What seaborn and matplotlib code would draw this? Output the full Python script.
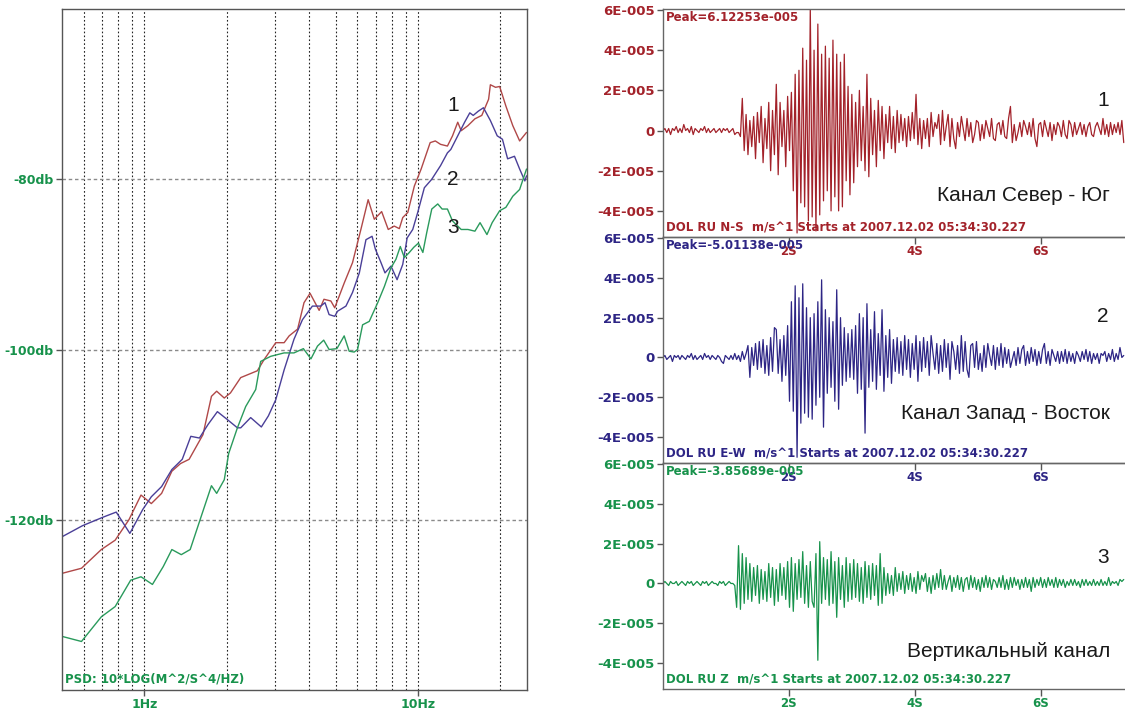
import numpy as np
import pandas as pd
import matplotlib
matplotlib.use("Agg")
import matplotlib.pyplot as plt
import seaborn as sns
from matplotlib.ticker import FixedLocator, LogLocator, NullFormatter

# ---------------- power spectral density (dB) ----------------
freq_ns = [0.50, 0.589, 0.696, 0.782, 0.878, 0.972, 1.06, 1.156, 1.26, 1.355, 1.457, 1.637,
           1.758, 1.837, 1.958, 2.063, 2.249, 2.586, 2.736, 3.02, 3.24, 3.38, 3.63, 3.83,
           4.03, 4.35, 4.53, 4.80, 4.96, 5.37, 5.76, 6.18, 6.57, 6.92, 7.36, 7.78, 8.18,
           8.54, 8.79, 9.17, 9.69, 10.26, 11.07, 11.56, 12.08, 12.8, 13.36, 13.96, 14.37,
           15.21, 16.13, 17.09, 18.1, 18.37, 19.19, 19.86, 20.93, 22.18, 23.5, 24.9]
psd_ns = [-126.3, -125.7, -123.5, -122.4, -120.0, -117.1, -118.1, -116.9, -114.3, -113.4,
          -112.9, -110.0, -105.5, -104.9, -105.7, -105.1, -103.3, -102.5, -101.2, -99.2,
          -99.2, -98.4, -97.6, -94.5, -93.4, -95.4, -94.1, -94.3, -95.1, -92.2, -89.8,
          -85.9, -82.4, -84.7, -83.8, -85.9, -85.5, -85.8, -84.5, -83.9, -80.8, -78.8,
          -75.7, -75.5, -75.9, -76.1, -74.9, -73.3, -74.3, -73.7, -72.9, -72.5, -70.6,
          -68.9, -69.2, -69.1, -71.4, -73.7, -75.5, -74.5]

freq_ew = [0.50, 0.594, 0.706, 0.789, 0.885, 0.986, 1.06, 1.156, 1.26, 1.375, 1.478, 1.589,
           1.709, 1.848, 2.004, 2.187, 2.249, 2.445, 2.675, 2.838, 3.02, 3.24, 3.52, 3.78,
           4.11, 4.41, 4.57, 4.73, 4.96, 5.08, 5.45, 5.76, 6.10, 6.45, 6.79, 6.98, 7.32,
           7.57, 7.96, 8.38, 8.79, 9.12, 9.56, 9.97, 10.54, 11.22, 12.08, 12.8, 13.17,
           13.96, 14.79, 15.45, 15.9, 16.6, 17.33, 18.37, 19.46, 20.33, 21.24, 22.5, 23.5,
           24.55, 24.9]
psd_ew = [-122.0, -120.7, -119.7, -119.1, -121.6, -118.8, -117.3, -116.1, -114.1, -112.9,
          -110.2, -110.4, -108.8, -107.3, -108.2, -109.2, -109.2, -108.0, -109.1, -107.8,
          -105.9, -102.4, -98.8, -96.5, -94.9, -94.9, -94.5, -95.9, -96.1, -95.5, -94.9,
          -93.3, -91.0, -87.1, -86.7, -88.2, -89.8, -91.0, -90.2, -91.8, -90.0, -86.9,
          -85.9, -83.9, -81.0, -80.0, -78.4, -76.9, -76.5, -74.9, -73.3, -72.2, -72.5,
          -72.0, -71.6, -73.1, -74.9, -75.3, -77.6, -77.3, -78.8, -80.2, -79.6]

freq_z = [0.50, 0.589, 0.696, 0.782, 0.891, 0.972, 1.07, 1.172, 1.26, 1.364, 1.47, 1.613,
          1.758, 1.837, 1.958, 2.033, 2.187, 2.345, 2.551, 2.66, 2.895, 3.24, 3.52, 3.81,
          4.06, 4.29, 4.52, 4.73, 5.05, 5.37, 5.60, 5.84, 6.01, 6.27, 6.63, 7.12, 7.53,
          7.96, 8.30, 8.61, 8.91, 9.29, 9.64, 10.03, 10.41, 10.75, 11.22, 11.8, 12.24,
          12.8, 13.36, 14.37, 15.21, 16.13, 16.84, 17.85, 18.65, 19.86, 20.93, 22.18,
          23.5, 24.9]
psd_z = [-133.7, -134.3, -131.4, -130.2, -127.1, -126.7, -127.6, -125.5, -123.5, -124.1,
         -123.5, -119.6, -116.0, -116.9, -115.3, -112.2, -109.2, -106.7, -104.7, -101.4,
         -100.8, -100.4, -100.4, -99.9, -101.1, -99.6, -98.9, -100.0, -99.9, -98.4, -100.2,
         -100.3, -100.0, -97.1, -96.7, -94.5, -92.6, -90.4, -89.4, -87.9, -89.2, -88.6,
         -88.0, -87.5, -88.6, -86.3, -83.5, -82.9, -83.5, -83.5, -84.9, -85.9, -85.9,
         -86.1, -85.1, -86.5, -85.1, -83.7, -83.3, -82.0, -81.2, -78.8]

psd_yticks = [-120, -100, -80]
psd_ylabels = ["-120db", "-100db", "-80db"]
psd_xticks = [1, 10]
psd_xlabels = ["1Hz", "10Hz"]

# ---------------- velocity records, micrometres per second, step 0.03 s ----------------
DT = 0.03
vel_ns = [
    0, 1, -1, 1, -2, 1, 0, 2, -1, 1,
    -1, 3, 0, 1, -1, 2, -2, 1, 0, -1,
    1, 0, 2, -1, 1, -1, 0, 1, -1, 0,
    1, -1, 1, 0, 1, -1, 0, 1, -2, -1,
    -1, -3, 16, -10, 8, -12, 5, -8, 7, -14,
    9, -6, 12, -16, 6, -9, 14, -20, 10, -12,
    23, -22, 14, -8, 10, -18, 17, -10, 19, -30,
    28, -51, 30, -36, 41, -38, 35, -45, 61.2253, -43,
    40, -50, 53, -42, 38, -35, 42, -30, 36, -40,
    45, -33, 38, -40, 34, -38, 38, -25, 22, -32,
    18, -26, 14, -18, 20, -15, 12, -20, 28, -23,
    16, -12, 10, -18, 15, -10, 12, -14, 8, -6,
    12, -9, 7, -11, 10, -6, 8, -5, 6, -8,
    7, -5, 9, -4, 18, -7, 6, -9, 5, -4,
    6, -8, 9, -3, 4, 1, 8, -7, 10, -5,
    2, 8, -8, 6, -4, -9, 4, -3, 7, 1,
    -5, 6, -3, 4, -6, -2, 5, 4, -5, 3,
    -4, 5, 1, -3, 6, -4, -5, 3, 4, -2,
    5, -3, -4, 6, 12, -6, 3, -5, -1, 4,
    -3, 5, 2, -2, 4, -3, 6, -4, -8, 3,
    4, -3, 5, 1, -3, 4, -5, 3, -2, 4,
    2, -3, 5, -2, -4, 5, 3, -3, 4, -2,
    1, 4, -2, 3, -3, 2, 4, -2, -3, 2,
    4, 1, -2, 6, -2, 3, -3, 4, -2, 3,
    -1, 4, -2, 5, -6]

vel_ew = [
    0, 1, -1, 0, 1, -2, 1, 0, 1, -1,
    1, 0, -1, 1, 0, 2, -1, 1, -1, 0,
    1, -1, 2, 0, 1, -1, 1, 0, -1, 1,
    0, -2, -3, 1, 0, -1, 1, -1, 2, -1,
    1, -2, 3, -1, 2, 6, -10, 5, -4, 7,
    -6, 8, -5, 9, -8, 6, -9, 10, -7, 15,
    14, -8, 9, -12, 11, -9, 16, -22, 28, -27,
    36, -50.1138, 30, -33, 37, -28, 25, -30, 20, -31,
    22, -24, 28, -20, 39, -35, 24, -18, 20, -15,
    18, -22, 34, -26, 20, -14, 15, -12, 12, -10,
    14, -11, 16, -18, 22, -16, 20, -38, 27, -15,
    14, -12, 23, -16, 12, -9, 24, -17, 11, -10,
    14, -13, 9, -7, 10, -8, 8, -9, 11, -6,
    9, -10, 7, -6, 11, -12, 8, -7, 10, -5,
    8, -9, 11, 2, -6, 7, -8, 6, -7, 9,
    -5, 7, -11, 8, 3, -6, 6, -8, 11, -7,
    8, -6, -10, 6, 7, -5, 8, -6, 2, -7,
    6, -5, 7, 1, -4, 6, -6, 5, -4, 7,
    -5, 5, -3, 4, -5, -1, 3, -4, 5, -3,
    4, 6, -4, 3, -3, 5, -2, 4, -4, 3,
    -3, 4, 7, -3, 3, -4, 4, 1, -2, 3,
    -3, 3, -2, 4, -3, 3, -2, 2, -3, 3,
    1, -2, 3, -1, 4, -2, 3, -3, 2, -1,
    2, -3, 2, 1, 3, -2, 2, -1, 4, -2,
    2, -1, 5, 0, 1]

vel_z = [
    0, 1, 0, -1, 1, 0, 0, 1, -1, 0,
    1, 0, -1, 1, 0, 1, -1, 0, 1, 0,
    -1, 1, 0, 1, -1, 0, 1, 0, 0, -1,
    1, 0, 1, -1, 0, 1, 0, 0, -1, -12,
    19, -13, 15, -10, 13, -8, 10, -9, 8, -6,
    9, -10, 7, -8, 6, -9, 10, -7, 8, -11,
    7, -9, 10, -6, 8, -8, 11, -12, 13, -14,
    10, -8, 12, -7, 16, -10, 9, -12, 11, -9,
    -12, 15, -38.5689, 21, -10, 13, -8, 12, -11, 16,
    -10, 11, -17, 13, -8, 9, -12, 13, -9, 10,
    -8, 12, -7, 10, -9, 8, -10, 11, -7, 9,
    -8, 10, -6, 9, -11, 15, -10, 8, -6, 5,
    -5, 4, -6, 8, -4, 5, -3, 6, -5, 4,
    -3, 5, -4, 3, -5, 6, -3, 4, 1, 5,
    -4, 3, -5, 4, -3, 5, -2, 7, -3, 4,
    -3, 1, 4, -4, 3, -2, 4, -3, 3, -4,
    2, 3, -3, 4, -2, 3, -3, 2, -4, 3,
    -2, 4, -2, 3, -3, 2, 1, -2, 3, -2,
    4, -3, 2, -3, 3, -2, 3, -1, 2, -3,
    2, -2, 3, -2, 2, -4, 3, -2, 2, -1,
    3, -2, 2, -2, 3, -1, 2, -2, 3, -2,
    2, -1, 2, -2, 1, -1, 2, -1, 2, -1,
    1, -2, 2, -1, 2, -1, 1, -1, 2, -1,
    1, -1, 2, -1, 1, -1, 3, -1, 1, 0,
    1, -1, 2, 1, 2]

amp_ticks = [-4e-5, -2e-5, 0, 2e-5, 4e-5, 6e-5]
amp_labels = ["-4E-005", "-2E-005", "0", "2E-005", "4E-005", "6E-005"]
time_ticks = [2, 4, 6]
time_labels = ["2S", "4S", "6S"]

channel_codes = ["N-S", "E-W", "Z"]
channel_names = ["Канал Север - Юг", "Канал Запад - Восток", "Вертикальный канал"]
channel_nums = ["1", "2", "3"]
start_stamp = "2007.12.02 05:34:30.227"

RED, BLUE, GREEN = "#a3222a", "#2d2585", "#17924b"
PSD_COLORS = ["#b04848", "#4a3f98", "#2a9a5c"]

sns.set_theme(style="white")
plt.rcParams["font.family"] = ["DejaVu Sans"]
SMALL = dict(family="DejaVu Sans", weight="bold", size=8.5)
BIG = dict(family="Liberation Sans", size=15)

W, H = 1125, 713
fig = plt.figure(figsize=(W / 100, H / 100), dpi=100)
fig.patch.set_facecolor("white")

# ---------------- spectrum panel ----------------
ax = fig.add_axes([62 / W, 1 - 690 / H, 465 / W, 681 / H])
ax.set_xscale("log")
psd_sets = [(freq_ns, psd_ns), (freq_ew, psd_ew), (freq_z, psd_z)]
for (fx, fy), col in zip(psd_sets, PSD_COLORS):
    d = pd.DataFrame({"f": fx, "db": fy})
    sns.lineplot(data=d, x="f", y="db", ax=ax, color=col, lw=1.0, estimator=None)
ax.set_xlim(0.5, 25)
ax.set_ylim(-140, -60)
ax.set_xlabel("")
ax.set_ylabel("")
ax.xaxis.set_major_locator(FixedLocator(psd_xticks))
ax.set_xticklabels(psd_xlabels)
ax.xaxis.set_minor_locator(LogLocator(base=10, subs=np.arange(2, 10)))
ax.xaxis.set_minor_formatter(NullFormatter())
ax.yaxis.set_major_locator(FixedLocator(psd_yticks))
ax.set_yticklabels(psd_ylabels)
ax.grid(False)
for xv in ax.xaxis.get_majorticklocs().tolist() + ax.xaxis.get_minorticklocs().tolist():
    if 0.5 < xv < 25:
        ax.axvline(xv, color="#222222", lw=0.8, ls=(0, (1.5, 2.0)), zorder=0)
for yv in psd_yticks:
    ax.axhline(yv, color="#8a8a8a", lw=1.0, ls=(0, (2.5, 2.0)), zorder=0)
ax.tick_params(axis="y", which="major", left=True, length=4, width=1, color="#555555",
               pad=2, labelcolor=GREEN)
ax.tick_params(axis="x", which="major", bottom=True, length=4, width=1, color="#555555",
               pad=2, labelcolor=GREEN)
ax.tick_params(axis="x", which="minor", bottom=False)
for lab in ax.get_xticklabels() + ax.get_yticklabels():
    lab.set_fontfamily(SMALL["family"])
    lab.set_fontweight("bold")
    lab.set_fontsize(9)
for s in ax.spines.values():
    s.set_color("#555555")
    s.set_linewidth(1.0)
ax.text(0.006, 0.006, "PSD: 10*LOG(M^2/S^4/HZ)", transform=ax.transAxes,
        ha="left", va="bottom", color=GREEN, **SMALL)
ax.text(13.4, -71.3, channel_nums[0], ha="center", va="center", color="#1a1a1a", **BIG)
ax.text(13.4, -80.0, channel_nums[1], ha="center", va="center", color="#1a1a1a", **BIG)
ax.text(13.4, -85.7, channel_nums[2], ha="center", va="center", color="#1a1a1a", **BIG)


def win_exp(v):
    mant, ex = f"{v:.5e}".split("e")
    return f"{mant}e{int(ex):+04d}"


# ---------------- seismogram panels ----------------
rows = [(9, 237), (237, 463), (463, 689)]
traces = [vel_ns, vel_ew, vel_z]
colors = [RED, BLUE, GREEN]
name_y = [0.18, 0.221, 0.164]
num_y = [0.60, 0.65, 0.584]
x0 = 663
for k, ((top, bot), vals, col) in enumerate(zip(rows, traces, colors)):
    a = fig.add_axes([x0 / W, 1 - bot / H, (W - x0) / W, (bot - top) / H])
    a.set_facecolor("none")
    v = np.asarray(vals, dtype=float) * 1e-6
    t = np.arange(len(v)) * DT
    sns.lineplot(x=t, y=v, ax=a, color=col, lw=0.9, estimator=None)
    a.set_xlim(0, 7.34)
    a.set_ylim(-5.3e-5, 6.05e-5)
    a.set_xlabel("")
    a.set_ylabel("")
    a.yaxis.set_major_locator(FixedLocator(amp_ticks))
    a.set_yticklabels(amp_labels)
    a.xaxis.set_major_locator(FixedLocator(time_ticks))
    a.set_xticklabels(time_labels)
    a.tick_params(axis="y", left=True, length=4, width=1, color="#555555", pad=2,
                  labelcolor=col)
    a.tick_params(axis="x", bottom=True, length=5, width=1, color="#555555", pad=1,
                  labelcolor=col)
    for lab in a.get_yticklabels():
        lab.set_fontfamily(SMALL["family"])
        lab.set_fontweight("bold")
        lab.set_fontsize(9.5)
    for lab in a.get_xticklabels():
        lab.set_fontfamily(SMALL["family"])
        lab.set_fontweight("bold")
        lab.set_fontsize(8.5)
    a.spines["right"].set_visible(False)
    for s in ["left", "top", "bottom"]:
        a.spines[s].set_color("#666666")
        a.spines[s].set_linewidth(1.0)
    peak = v[np.argmax(np.abs(v))]
    a.text(0.006, 0.992, "Peak=" + win_exp(peak), transform=a.transAxes,
           ha="left", va="top", color=col, **SMALL)
    a.text(0.006, 0.012, f"DOL RU {channel_codes[k]}  m/s^1 Starts at {start_stamp}",
           transform=a.transAxes, ha="left", va="bottom", color=col, **SMALL)
    a.text(0.968, name_y[k], channel_names[k], transform=a.transAxes,
           ha="right", va="center", color="#1a1a1a", **BIG)
    a.text(0.952, num_y[k], channel_nums[k], transform=a.transAxes,
           ha="center", va="center", color="#1a1a1a", **BIG)

fig.savefig("out.png", dpi=100, facecolor="white")
